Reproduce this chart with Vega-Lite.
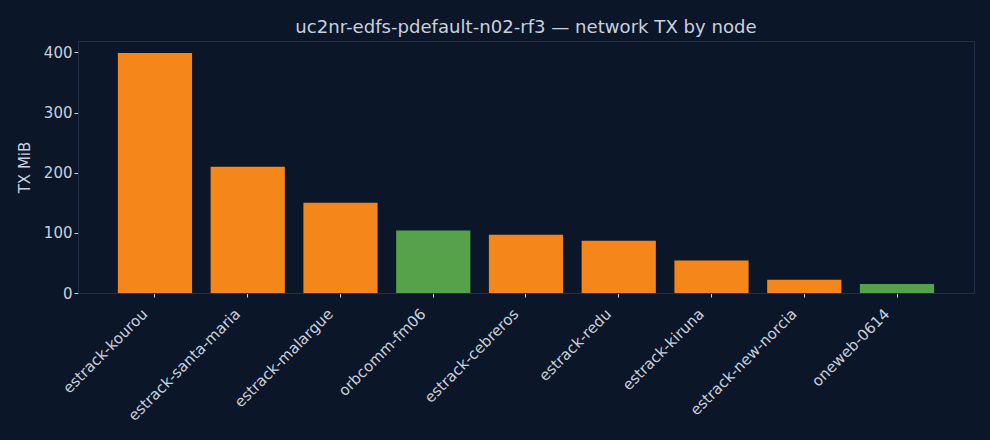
{
  "$schema": "https://vega.github.io/schema/vega-lite/v6.json",
  "width": 896,
  "height": 252,
  "autosize": {"type": "none"},
  "padding": {"left": 78, "top": 41, "right": 16, "bottom": 147},
  "background": "#0b1628",
  "title": {
    "text": "uc2nr-edfs-pdefault-n02-rf3 — network TX by node",
    "font": "DejaVu Sans",
    "fontSize": 18.1,
    "fontWeight": "normal",
    "color": "#c9d1de",
    "offset": 4
  },
  "data": {
    "values": [
      {"node": "estrack-kourou", "kind": "ground", "tx": 399},
      {"node": "estrack-santa-maria", "kind": "ground", "tx": 210},
      {"node": "estrack-malargue", "kind": "ground", "tx": 150},
      {"node": "orbcomm-fm06", "kind": "sat", "tx": 104},
      {"node": "estrack-cebreros", "kind": "ground", "tx": 97},
      {"node": "estrack-redu", "kind": "ground", "tx": 87},
      {"node": "estrack-kiruna", "kind": "ground", "tx": 54},
      {"node": "estrack-new-norcia", "kind": "ground", "tx": 22},
      {"node": "oneweb-0614", "kind": "sat", "tx": 15}
    ]
  },
  "mark": {"type": "bar"},
  "encoding": {
    "x": {
      "field": "node",
      "type": "nominal",
      "sort": null,
      "title": null,
      "scale": {"paddingInner": 0.2, "paddingOuter": 0.43},
      "axis": {
        "labelAngle": -45,
        "labelAlign": "right",
        "labelBaseline": "top",
        "labelPadding": 9,
        "labelOffset": -15,
        "tickSize": 4
      }
    },
    "y": {
      "field": "tx",
      "type": "quantitative",
      "title": "TX MiB",
      "scale": {"domain": [0, 419], "nice": false, "zero": true},
      "axis": {"values": [0, 100, 200, 300, 400], "tickSize": 4, "titlePadding": 11}
    },
    "color": {
      "field": "kind",
      "type": "nominal",
      "legend": null,
      "scale": {"domain": ["ground", "sat"], "range": ["#f5871a", "#55a24b"]}
    }
  },
  "config": {
    "view": {"stroke": "#22304a", "strokeWidth": 1},
    "axis": {
      "grid": false,
      "domainColor": "#22304a",
      "tickColor": "#c9d1de",
      "labelColor": "#c9d1de",
      "titleColor": "#c9d1de",
      "labelFont": "DejaVu Sans",
      "titleFont": "DejaVu Sans",
      "labelFontSize": 15,
      "titleFontSize": 15,
      "titleFontWeight": "normal"
    }
  }
}
